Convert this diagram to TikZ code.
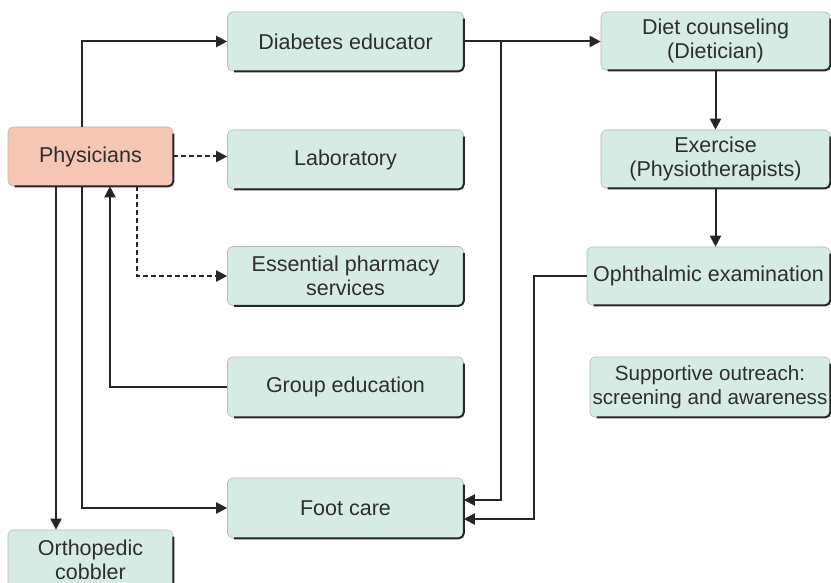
\documentclass[tikz,border=0pt]{standalone}
\usepackage{fontspec}
\setmainfont{Liberation Sans}
\usetikzlibrary{arrows.meta,calc}
\definecolor{boxfill}{HTML}{D5EBE3}
\definecolor{physfill}{HTML}{F6C6B4}
\definecolor{inkc}{HTML}{262626}
\definecolor{txtc}{HTML}{2E2E2E}
\newcommand\edgeshade[1]{\draw[edgeline] ([yshift=-7pt]#1.north east) -- (#1.south east) -- ([xshift=7pt]#1.south west);}
\tikzset{
  x=1pt, y=-1pt,
  box/.style={draw=gray!55, line width=0.6pt, fill=boxfill, rounded corners=5pt,
    inner sep=0pt, align=center, text=txtc, font=\fontsize{21.5}{24}\selectfont},
  edgeline/.style={draw=inkc, line width=2pt, rounded corners=5pt},
  arr/.style={draw=inkc, line width=2pt, -{Triangle[length=11pt,width=11pt]}},
  dsh/.style={dash pattern=on 5pt off 3pt}
}
\begin{document}
\begin{tikzpicture}
\path[use as bounding box] (0,0) rectangle (831,583);
\clip (0,0) rectangle (831,583);
% nodes
\node[box, minimum width=236pt, minimum height=59pt] (de) at (345.5,41.5) {Diabetes educator};
\node[box, minimum width=236pt, minimum height=59pt] (lab) at (345.5,159.5) {Laboratory};
\node[box, minimum width=236pt, minimum height=59pt] (pharm) at (345.5,276) {Essential pharmacy\\services};
\node[box, minimum width=236pt, minimum height=60pt] (grp) at (345.5,387) {Group education};
\node[box, minimum width=236pt, minimum height=60pt] (foot) at (345.5,508) {Foot care};
\node[box, fill=physfill, minimum width=165pt, minimum height=59pt] (phys) at (90.5,156.5) {Physicians};
\node[box, minimum width=165pt, minimum height=60pt] (ortho) at (90.5,560) {Orthopedic\\cobbler};
\node[box, minimum width=229pt, minimum height=58pt] (diet) at (715.5,41) {Diet counseling\\(Dietician)};
\node[box, minimum width=229pt, minimum height=58pt] (ex) at (715.5,159) {Exercise\\(Physiotherapists)};
\node[box, minimum width=243pt, minimum height=58pt] (oph) at (708.5,276) {Ophthalmic examination};
\node[box, minimum width=240pt, minimum height=60pt, font=\fontsize{20.6}{24}\selectfont] (sup) at (710,387) {Supportive outreach:\\screening and awareness};
\foreach \n in {de,lab,pharm,grp,foot,phys,ortho,diet,ex,oph,sup} {\edgeshade{\n}}
% guide coordinates
\coordinate (xa) at (56,0);
\coordinate (xb) at (82,0);
\coordinate (xc) at (110,0);
\coordinate (xd) at (137,0);
\coordinate (xe) at (501,0);
\coordinate (xf) at (534,0);
% connectors
\draw[arr] (phys.north -| xb) |- (de.west);
\draw[arr, dsh] (phys.east) -- (phys.east -| lab.west);
\draw[arr, dsh] (phys.south -| xd) |- (pharm.west);
\draw[arr] (grp.west) -| (phys.south -| xc);
\draw[arr] (phys.south -| xb) |- (foot.west);
\draw[arr] (phys.south -| xa) -- (ortho.north -| xa);
\draw[arr] (de.east) -- (de.east -| diet.west);
\draw[arr] (de.east -| xe) |- ([yshift=8pt]foot.east);
\draw[arr] (oph.west) -- (oph.west -| xf) |- ([yshift=-11pt]foot.east);
\draw[arr] (diet.south) -- (ex.north);
\draw[arr] (ex.south) -- (ex.south |- oph.north);
\end{tikzpicture}
\end{document}
